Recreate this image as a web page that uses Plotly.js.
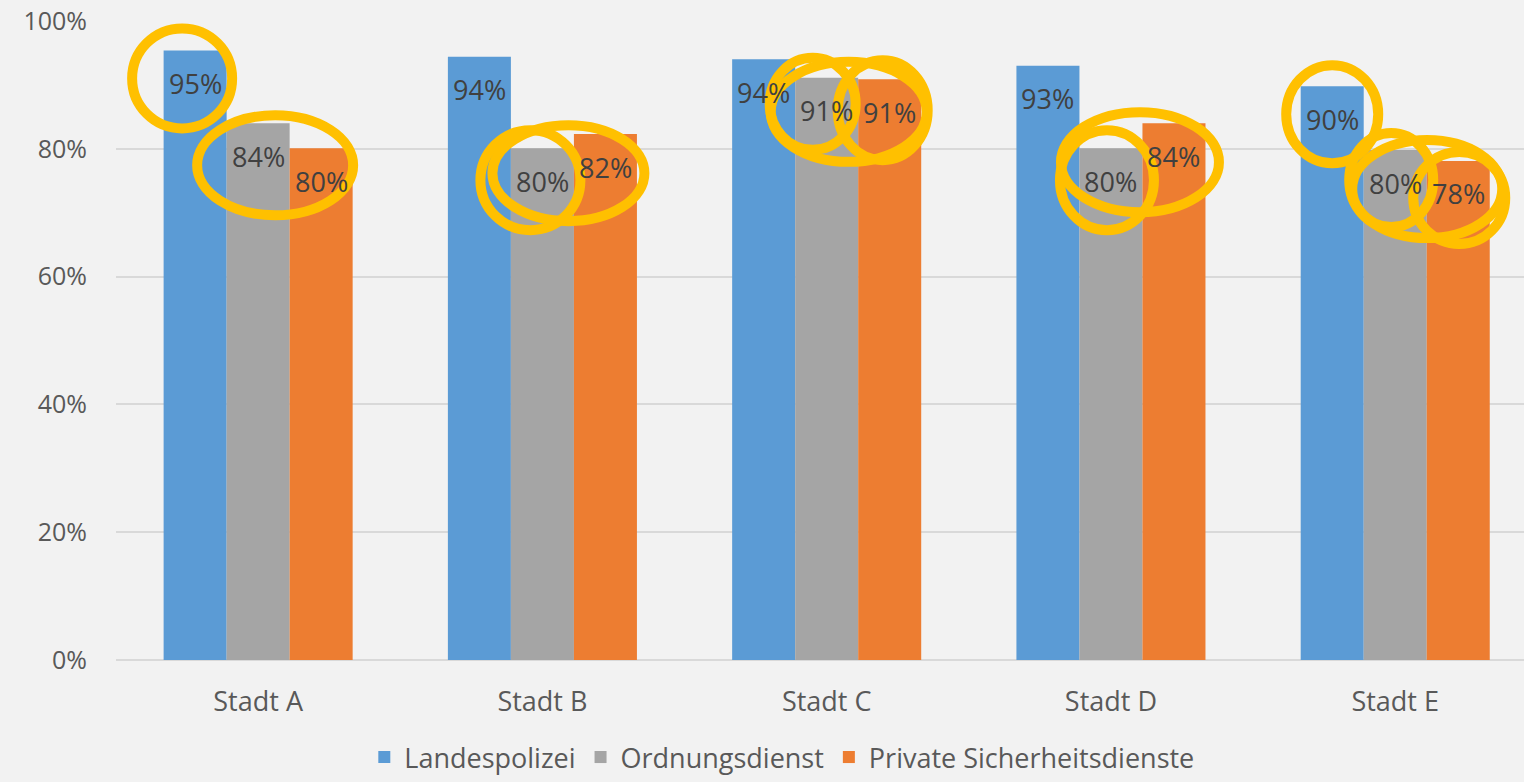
<!DOCTYPE html>
<html>
<head>
<meta charset="utf-8">
<script src="https://cdn.plot.ly/plotly-3.0.1.min.js"></script>
<style>html,body{margin:0;padding:0;background:#f2f2f2;}#chart{width:1524px;height:782px;}</style>
</head>
<body>
<div id="chart"></div>
<script>
// ---- data ----
const categories = ["Stadt A", "Stadt B", "Stadt C", "Stadt D", "Stadt E"];
const seriesNames = ["Landespolizei", "Ordnungsdienst", "Private Sicherheitsdienste"];
const landespolizei = [95.4, 94.4, 94.0, 93.0, 89.8];
const ordnungsdienst = [84.0, 80.1, 91.1, 80.1, 79.8];
const privateSicherheit = [80.1, 82.3, 90.9, 84.0, 78.1];
const yTickVals = [0, 20, 40, 60, 80, 100];
const yTickText = ["0%", "20%", "40%", "60%", "80%", "100%"];
// highlight rings: [categoryIndex, seriesIndex, dxPx, dyPx(below top), rxPx, ryPx]
const highlights = [
  [0, 0, -13, 28, 50, 50],
  [0, 1, 17, 42, 78, 50],
  [1, 1, -12, 32, 50, 50],
  [1, 1, 26, 25, 76, 48],
  [2, 1, -14, 26, 43, 46],
  [2, 2, -7, 31, 45, 50],
  [2, 1, 22, 34, 78, 50],
  [3, 1, -4, 32, 47, 50],
  [3, 1, 29, 14, 79, 50],
  [4, 0, 0, 28, 46, 49],
  [4, 1, -4, 30, 42, 47],
  [4, 2, 1, 37, 46, 46],
  [4, 1, 32, 39, 75, 49]
];

const seriesValues = [landespolizei, ordnungsdienst, privateSicherheit];
const colors = ["#5b9bd5", "#a5a5a5", "#ed7d31"];
const FONT = "Open Sans, Noto Sans, sans-serif";
const bargap = 0.335;
const w = (1 - bargap) / 3;

const traces = seriesValues.map((vals, k) => ({
  type: "bar",
  name: seriesNames[k],
  x: categories.map((c, i) => i),
  y: vals,
  marker: {color: colors[k], line: {width: 0}},
  hoverinfo: "skip"
}));

const annotations = [];
seriesValues.forEach((vals, k) => {
  vals.forEach((v, i) => {
    annotations.push({
      x: i + (k - 1) * w, y: v, xref: "x", yref: "y",
      text: Math.round(v) + "%", showarrow: false,
      yshift: -33, font: {family: FONT, size: 27, color: "#404040"}
    });
  });
});

const shapes = highlights.map(h => {
  const [i, k, dx, dy, rx, ry] = h;
  return {
    type: "circle", xref: "x", yref: "y",
    xsizemode: "pixel", ysizemode: "pixel",
    xanchor: i + (k - 1) * w, yanchor: seriesValues[k][i],
    x0: dx - rx, x1: dx + rx, y0: -(dy - ry), y1: -(dy + ry),
    line: {color: "#ffc000", width: 10}, fillcolor: "rgba(0,0,0,0)", layer: "above"
  };
});

const layout = {
  width: 1524, height: 782,
  margin: {l: 116, r: 0, t: 21, b: 122},
  paper_bgcolor: "#f2f2f2", plot_bgcolor: "#f2f2f2",
  barmode: "group", bargap: bargap, bargroupgap: 0,
  font: {family: FONT, color: "#595959", size: 25},
  xaxis: {
    type: "linear", range: [-0.5, 4.453],
    tickvals: categories.map((c, i) => i), ticktext: categories,
    showgrid: false, zeroline: false, showline: false, ticks: "",
    ticklabelstandoff: 23, tickfont: {family: FONT, size: 27, color: "#595959"}
  },
  yaxis: {
    range: [0, 100], tickvals: yTickVals, ticktext: yTickText,
    showgrid: true, gridcolor: "#d9d9d9", gridwidth: 2,
    zeroline: true, zerolinecolor: "#d9d9d9", zerolinewidth: 2,
    showline: false, ticks: "", ticklabelstandoff: 28,
    tickfont: {family: FONT, size: 25, color: "#595959"}
  },
  showlegend: true,
  legend: {
    orientation: "h", xref: "container", yref: "container",
    x: 0.513, xanchor: "center", y: 0, yanchor: "bottom",
    font: {family: FONT, size: 27, color: "#595959"},
    bgcolor: "rgba(0,0,0,0)", traceorder: "normal"
  },
  annotations: annotations,
  shapes: shapes
};

Plotly.newPlot("chart", traces, layout, {displayModeBar: false, staticPlot: true});
</script>
</body>
</html>
